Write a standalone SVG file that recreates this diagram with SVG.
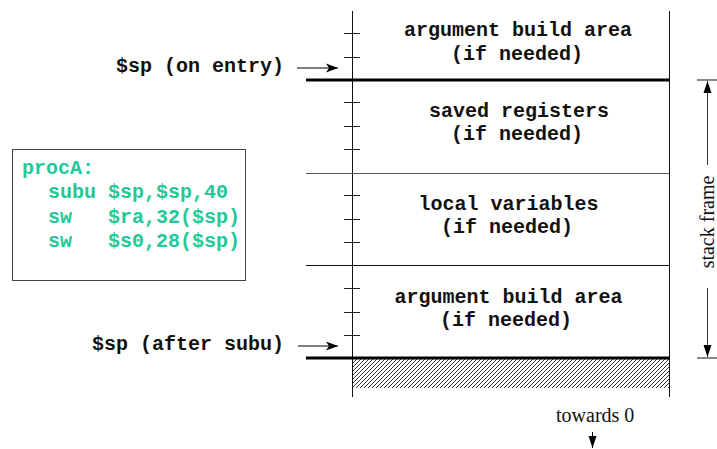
<svg xmlns="http://www.w3.org/2000/svg" width="717" height="449" viewBox="0 0 717 449">
<style>
.mono{font-family:"Liberation Mono","Courier New",monospace;font-weight:bold;font-size:20px;fill:#111}
.code{font-family:"Liberation Mono","Courier New",monospace;font-weight:bold;font-size:20px;fill:#20c997}
.serif{font-family:"Liberation Serif","Times New Roman",serif;font-size:20px;fill:#111}
.thin{stroke:#111;stroke-width:1;fill:none}
.gray{stroke:#555;stroke-width:1;fill:none}
.thick{stroke:#000;stroke-width:3;fill:none}
.tick{stroke:#222;stroke-width:1}
</style>
<defs>
<marker id="ah" viewBox="0 0 12 10" refX="12" refY="5" markerWidth="12" markerHeight="10" markerUnits="userSpaceOnUse" orient="auto">
<path d="M0,0.5 L12,5 L0,9.5 L3,5 z" fill="#000"/>
</marker>
<marker id="ah2" viewBox="0 0 12 10" refX="12" refY="5" markerWidth="13" markerHeight="10" markerUnits="userSpaceOnUse" orient="auto">
<path d="M0,1 L12,5 L0,9 z" fill="#000"/>
</marker>
<pattern id="hatch" width="4" height="4" patternUnits="userSpaceOnUse">
<path d="M-1,1 L1,-1 M0,4 L4,0 M3,5 L5,3" stroke="#333" stroke-width="1"/>
</pattern>
</defs>

<g id="stack">
<rect x="352" y="358" width="317" height="30" fill="url(#hatch)"/>
<line class="thin" x1="352.5" y1="11" x2="352.5" y2="397"/>
<line class="thin" x1="669.5" y1="11" x2="669.5" y2="397"/>
<line class="thick" x1="306" y1="80" x2="669" y2="80"/>
<line class="gray" x1="306" y1="173.5" x2="669" y2="173.5"/>
<line class="thin" x1="306" y1="265.5" x2="669" y2="265.5"/>
<line class="thick" x1="306" y1="358" x2="669" y2="358"/>
<g class="tick">
<line x1="344" y1="33.5" x2="360" y2="33.5"/>
<line x1="344" y1="57.5" x2="360" y2="57.5"/>
<line x1="344" y1="102.5" x2="360" y2="102.5"/>
<line x1="344" y1="126.5" x2="360" y2="126.5"/>
<line x1="344" y1="149.5" x2="360" y2="149.5"/>
<line x1="344" y1="195.5" x2="360" y2="195.5"/>
<line x1="344" y1="219.5" x2="360" y2="219.5"/>
<line x1="344" y1="242.5" x2="360" y2="242.5"/>
<line x1="344" y1="288.5" x2="360" y2="288.5"/>
<line x1="344" y1="312.5" x2="360" y2="312.5"/>
<line x1="344" y1="335.5" x2="360" y2="335.5"/>
</g>
</g>

<g id="arg-top">
<text class="mono" x="518" y="36" text-anchor="middle">argument build area</text>
<text class="mono" x="517" y="60" text-anchor="middle">(if needed)</text>
</g>
<g id="saved-regs">
<text class="mono" x="519" y="117" text-anchor="middle">saved registers</text>
<text class="mono" x="517" y="140" text-anchor="middle">(if needed)</text>
</g>
<g id="local-vars">
<text class="mono" x="508.5" y="210" text-anchor="middle">local variables</text>
<text class="mono" x="507" y="233" text-anchor="middle">(if needed)</text>
</g>
<g id="arg-bottom">
<text class="mono" x="508.5" y="303" text-anchor="middle">argument build area</text>
<text class="mono" x="506" y="326" text-anchor="middle">(if needed)</text>
</g>

<g id="sp-entry">
<text class="mono" x="116" y="72">$sp (on entry)</text>
</g>
<g id="sp-after">
<text class="mono" x="92" y="350">$sp (after subu)</text>
</g>

<g id="code">
<rect x="12.5" y="149.5" width="233" height="131" fill="#fff" stroke="#444" stroke-width="1"/>
<text class="code" x="22" y="174">procA:</text>
<text class="code" x="48" y="198" xml:space="preserve">subu $sp,$sp,40</text>
<text class="code" x="48" y="223" xml:space="preserve">sw   $ra,32($sp)</text>
<text class="code" x="48" y="247" xml:space="preserve">sw   $s0,28($sp)</text>
</g>

<g id="stack-frame">
<line class="thin" x1="697" y1="80" x2="717" y2="80"/>
<line class="thin" x1="697" y1="358" x2="717" y2="358"/>
<text class="serif" transform="translate(714,222) rotate(-90)" text-anchor="middle">stack frame</text>
</g>

<g id="towards0">
<text class="serif" x="556" y="422">towards 0</text>
</g>

<g id="connectors">
<line x1="297" y1="68" x2="338" y2="68" stroke="#000" stroke-width="1" marker-end="url(#ah)"/>
<line x1="298" y1="346" x2="338" y2="346" stroke="#000" stroke-width="1" marker-end="url(#ah)"/>
<line x1="707.5" y1="165" x2="707.5" y2="81" stroke="#333" stroke-width="1" marker-end="url(#ah2)"/>
<line x1="707.5" y1="288" x2="707.5" y2="357" stroke="#333" stroke-width="1" marker-end="url(#ah2)"/>
<line x1="592.5" y1="432" x2="592.5" y2="448" stroke="#000" stroke-width="1" marker-end="url(#ah2)"/>
</g>
</svg>
